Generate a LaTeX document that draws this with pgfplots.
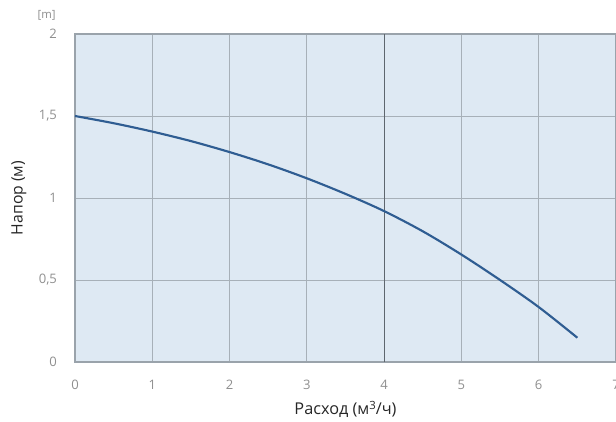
\documentclass[border=0pt]{standalone}
\usepackage{fontspec}
\setmainfont{Open Sans}
\usepackage{pgfplots}
\pgfplotsset{compat=1.18}
\definecolor{bg}{HTML}{DEE9F3}
\definecolor{gridc}{HTML}{A7B0B8}
\definecolor{gridd}{HTML}{5E666E}
\definecolor{framec}{HTML}{9AA3AB}
\definecolor{curve}{HTML}{2F5D92}
\definecolor{tickc}{HTML}{8F8F8F}
\begin{document}
\begin{tikzpicture}
\begin{axis}[
  name=ax,
  at={(0,0)}, anchor=south west,
  width=405.75pt, height=246pt, scale only axis,
  xmin=0, xmax=7, ymin=0, ymax=2,
  xtick={0,1,...,7}, ytick={0,0.5,1,1.5,2},
  axis background/.style={fill=bg},
  axis line style={framec, line width=0.8pt},
  grid=major, major grid style={gridc, line width=0.6pt},
  major tick length=0pt,
  tick label style={font=\fontsize{9.8}{11}\selectfont, text=tickc},
  /pgf/number format/assume math mode=true,
  /pgf/number format/use comma,
  yticklabel style={xshift=-10pt},
  xticklabel style={yshift=-10pt},
  xlabel={Расход (м\raisebox{0.55ex}{\fontsize{8.5}{9}\selectfont 3}/ч)},
  ylabel={Напор (м)},
  label style={text=black!85},
  xlabel style={font=\fontsize{12.2}{14}\selectfont, at={(0.5,0)}, anchor=north, yshift=-26pt},
  ylabel style={font=\fontsize{11.8}{14}\selectfont, at={(0,0.5)}, anchor=south, yshift=33pt},
  clip=false,
]
\addplot[gridd, line width=0.8pt, forget plot] coordinates {(4,0) (4,2)};
\addplot[curve, line width=1.6pt, smooth] coordinates {
(0,1.50) (0.5,1.456) (1,1.405) (1.5,1.347) (2,1.28) (2.5,1.205) (3,1.12) (3.5,1.025) (4,0.92) (4.5,0.797) (5,0.655) (5.5,0.50) (6,0.335) (6.5,0.148)
};
\node[anchor=east, font=\fontsize{8.5}{9}\selectfont, text=tickc] at ([xshift=-11pt, yshift=14pt]rel axis cs:0,1) {[m]};
\end{axis}
\pgfresetboundingbox
\path[use as bounding box] (-56.25pt,-44.25pt) rectangle (405.75pt,271.5pt);
\end{tikzpicture}
\end{document}
